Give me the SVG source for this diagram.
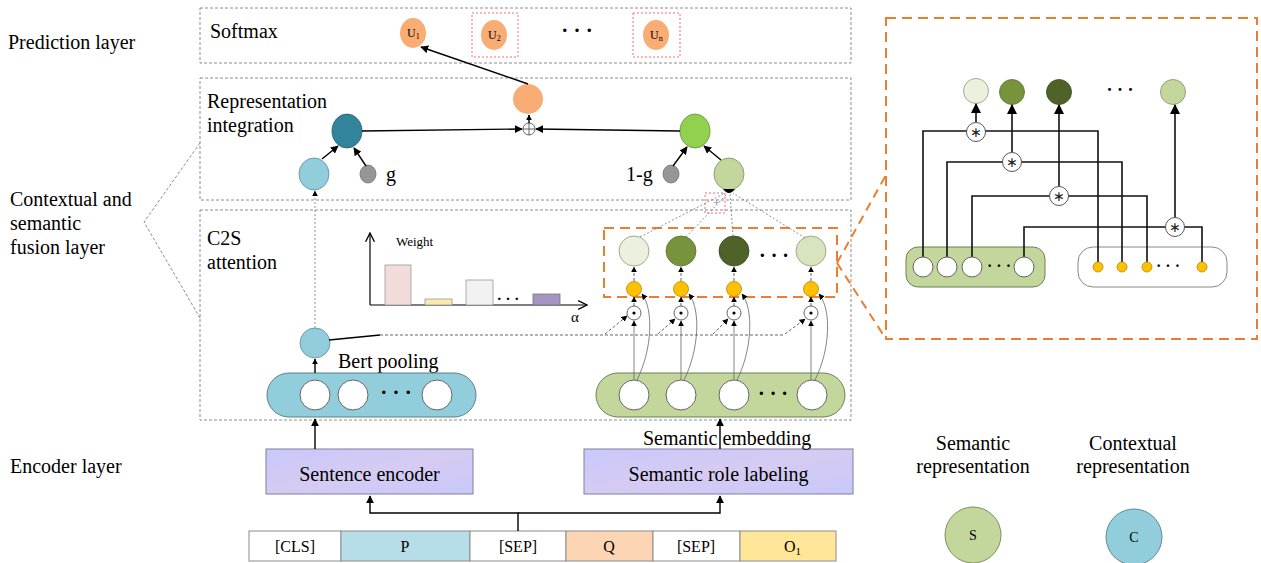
<svg xmlns="http://www.w3.org/2000/svg" width="1261" height="563" viewBox="0 0 1261 563">
<defs>
<style>
.t{font-family:"Liberation Serif","Times New Roman",serif;font-size:20px;fill:#000}
.s{font-family:"Liberation Serif","Times New Roman",serif;fill:#000}
.dots{font-family:"Liberation Serif","Times New Roman",serif;font-weight:bold;fill:#000;text-anchor:middle}
.ast{font-family:"DejaVu Sans",sans-serif;font-size:14px;fill:#222;text-anchor:middle}
.box{fill:none;stroke:#8c8c8c;stroke-width:1;stroke-dasharray:3 2}
.obox{fill:none;stroke:#ed7d31;stroke-width:2;stroke-dasharray:10 6}
.rbox{fill:none;stroke:#ff6b6b;stroke-width:1;stroke-dasharray:2 2}
.ln{fill:none;stroke:#000;stroke-width:1.4}
.thin{fill:none;stroke:#666;stroke-width:0.8}
.dot{fill:none;stroke:#777;stroke-width:0.8;stroke-dasharray:2 2}
.dash{fill:none;stroke:#555;stroke-width:0.9;stroke-dasharray:3 2}
.wc{fill:#fff;stroke:#666;stroke-width:1}
.yc{fill:#ffc000;stroke:#b08a00;stroke-width:0.8}
.uc{fill:#f9ac74;stroke:none}
.ink{fill:none;stroke:#111;stroke-width:1.6}
</style>
<marker id="ah" viewBox="0 0 10 10" refX="9" refY="5" markerWidth="8" markerHeight="8" markerUnits="userSpaceOnUse" orient="auto"><path d="M0,0 L10,5 L0,10 z" fill="#000"/></marker>
<marker id="ahs" viewBox="0 0 10 10" refX="9" refY="5" markerWidth="6" markerHeight="6" markerUnits="userSpaceOnUse" orient="auto"><path d="M0,0 L10,5 L0,10 z" fill="#000"/></marker>
<marker id="ahb" viewBox="0 0 10 10" refX="9" refY="5" markerWidth="11" markerHeight="10" markerUnits="userSpaceOnUse" orient="auto"><path d="M0,0 L10,5 L0,10 z" fill="#000"/></marker>
<marker id="chev" viewBox="0 0 10 10" refX="9" refY="5" markerWidth="11" markerHeight="11" markerUnits="userSpaceOnUse" orient="auto"><path d="M1,1 L9,5 L1,9" fill="none" stroke="#000" stroke-width="1.2"/></marker>
<linearGradient id="lav" x1="0" y1="0" x2="1" y2="1"><stop offset="0" stop-color="#c8c8fb"/><stop offset="0.5" stop-color="#d6cbf2"/><stop offset="1" stop-color="#c8c8fb"/></linearGradient>
</defs>
<rect width="1261" height="563" fill="#fff"/>

<!-- layer labels -->
<g id="layer-labels">
<text class="t" x="8" y="49">Prediction layer</text>
<text class="t" x="10" y="206">Contextual and</text>
<text class="t" x="10" y="230">semantic</text>
<text class="t" x="10" y="254">fusion layer</text>
<text class="t" x="10" y="473">Encoder layer</text>
<polyline points="200,143 144,222 200,318" class="box"/>
</g>

<!-- frames -->
<g id="prediction-box">
<rect x="200" y="8" width="651" height="55" class="box"/>
<text class="t" x="210" y="38">Softmax</text>
</g>
<g id="representation-box">
<rect x="200" y="78" width="651" height="122" class="box"/>
<text class="t" x="207" y="108">Representation</text>
<text class="t" x="207" y="132">integration</text>
</g>
<g id="c2s-box">
<rect x="200" y="210" width="651" height="210" class="box"/>
<text class="t" x="207" y="245">C2S</text>
<text class="t" x="207" y="269">attention</text>
</g>

<!-- prediction nodes -->
<g id="u1"><ellipse cx="413" cy="33" rx="13" ry="15" class="uc"/><text class="s" font-size="12" x="407" y="37">U<tspan font-size="8" dy="2">1</tspan></text></g>
<g id="u2"><rect x="472" y="13" width="46" height="44" class="rbox"/><ellipse cx="494" cy="35" rx="13" ry="15" class="uc"/><text class="s" font-size="12" x="488" y="39">U<tspan font-size="8" dy="2">2</tspan></text></g>
<g id="udots"><text class="dots" font-size="21" x="577" y="37">· · ·</text></g>
<g id="un"><rect x="633" y="13" width="47" height="44" class="rbox"/><ellipse cx="656" cy="35" rx="13" ry="15" class="uc"/><text class="s" font-size="12" x="650" y="39">U<tspan font-size="8" dy="2">n</tspan></text></g>

<!-- representation nodes -->
<g id="fused"><ellipse cx="528" cy="99" rx="15" ry="15" fill="#f9ac74"/></g>
<g id="oplus"><circle cx="529" cy="129" r="6" fill="#fff" stroke="#555" stroke-width="0.9"/><path d="M523,129 H535 M529,123 V135" stroke="#555" stroke-width="0.9"/></g>
<g id="ctx-gated"><ellipse cx="347" cy="131" rx="15" ry="17" fill="#31849b" stroke="#24606f" stroke-width="0.8"/></g>
<g id="sem-gated"><ellipse cx="695" cy="131" rx="15" ry="17" fill="#92d050" stroke="#5f8f32" stroke-width="0.8"/></g>
<g id="ctx-rep"><ellipse cx="314" cy="174" rx="15" ry="16" fill="#92cddc" stroke="#5a8c99" stroke-width="0.8"/></g>
<g id="gate-g"><ellipse cx="368" cy="174" rx="8" ry="9" fill="#969696" stroke="#6f6f6f" stroke-width="0.8"/><text class="t" x="386" y="181">g</text></g>
<g id="gate-1g"><ellipse cx="671" cy="174" rx="8" ry="9" fill="#969696" stroke="#6f6f6f" stroke-width="0.8"/><text class="t" x="626" y="181">1-g</text></g>
<g id="sem-rep"><ellipse cx="729" cy="174" rx="15" ry="16" fill="#c3d69b" stroke="#7d8f5a" stroke-width="0.8"/><path d="M723,189 Q729,197 735,189 Z" fill="#000"/></g>
<g id="sum-mark"><rect x="705" y="193" width="20" height="20" class="rbox"/><text class="s" font-size="12" x="713" y="207" style="fill:#888">+</text></g>

<!-- C2S chart -->
<g id="weight-chart">
<path d="M370,305 V233" class="thin" style="stroke:#000;stroke-width:1.2" marker-end="url(#chev)"/>
<path d="M370,305 H587" class="thin" style="stroke:#000;stroke-width:1.2" marker-end="url(#chev)"/>
<text class="s" font-size="13" x="396" y="246">Weight</text>
<text class="s" font-size="15" x="571" y="322">α</text>
<rect x="385" y="265" width="26" height="40" fill="#f2dcdb" stroke="#999" stroke-width="0.8"/>
<rect x="425" y="299" width="27" height="6" fill="#fce9b0" stroke="#999" stroke-width="0.8"/>
<rect x="466" y="280" width="27" height="25" fill="#f2f2f2" stroke="#999" stroke-width="0.8"/>
<text class="dots" font-size="15" x="508" y="304">· · ·</text>
<rect x="533" y="294" width="27" height="11" fill="#a495c1" stroke="#777" stroke-width="0.8"/>
</g>

<!-- pooling -->
<g id="pooled"><circle cx="315" cy="343" r="15" fill="#92cddc" stroke="#5a8c99" stroke-width="0.8"/><text class="t" x="338" y="368">Bert pooling</text></g>
<g id="context-seq">
<rect x="267" y="373" width="209" height="44" rx="22" fill="#92cddc" stroke="#5a7f8a" stroke-width="1"/>
<circle cx="315" cy="395" r="15" class="wc"/><circle cx="353" cy="395" r="15" class="wc"/><circle cx="437" cy="395" r="15" class="wc"/>
<text class="dots" font-size="21" x="396" y="399">· · ·</text>
</g>

<!-- semantic sequence -->
<g id="semantic-seq">
<rect x="596" y="373" width="249" height="44" rx="22" fill="#c3d69b" stroke="#6f7f55" stroke-width="1"/>
<circle cx="634" cy="395" r="15" class="wc"/><circle cx="681" cy="395" r="15" class="wc"/><circle cx="734" cy="395" r="15" class="wc"/><circle cx="812" cy="395" r="15" class="wc"/>
<text class="dots" font-size="20" x="773" y="400">· · ·</text>
</g>
<g id="dot-products">
<circle cx="634" cy="313" r="7" class="wc"/><circle cx="634" cy="313" r="1.6" fill="#000"/>
<circle cx="681" cy="313" r="7" class="wc"/><circle cx="681" cy="313" r="1.6" fill="#000"/>
<circle cx="734" cy="313" r="7" class="wc"/><circle cx="734" cy="313" r="1.6" fill="#000"/>
<circle cx="811" cy="313" r="7" class="wc"/><circle cx="811" cy="313" r="1.6" fill="#000"/>
</g>
<g id="weights">
<circle cx="634" cy="289" r="7.5" class="yc"/><circle cx="681" cy="289" r="7.5" class="yc"/><circle cx="734" cy="289" r="7.5" class="yc"/><circle cx="811" cy="289" r="7.5" class="yc"/>
</g>
<g id="weighted">
<rect x="604" y="228" width="233" height="69" class="obox"/>
<circle cx="634" cy="251" r="15" fill="#ebf1de" stroke="#8a9a70" stroke-width="0.8"/>
<circle cx="681" cy="251" r="15" fill="#77933c" stroke="#5a7030" stroke-width="0.8"/>
<circle cx="734" cy="251" r="15" fill="#4f6228" stroke="#3a481e" stroke-width="0.8"/>
<circle cx="811" cy="251" r="15" fill="#d7e4bd" stroke="#8a9a70" stroke-width="0.8"/>
<text class="dots" font-size="20" x="774" y="262">· · ·</text>
</g>

<!-- encoder -->
<g id="sentence-encoder"><rect x="266" y="449" width="207" height="45" fill="url(#lav)" stroke="#7f7f9f" stroke-width="1"/><text class="t" x="369.5" y="481" text-anchor="middle">Sentence encoder</text></g>
<g id="srl"><rect x="584" y="449" width="269" height="45" fill="url(#lav)" stroke="#7f7f9f" stroke-width="1"/><text class="t" x="718.5" y="481" text-anchor="middle">Semantic role labeling</text><text class="t" x="643" y="445">Semantic embedding</text></g>
<g id="tokens">
<rect x="249" y="531" width="92" height="30" fill="#fff" stroke="#8c8c8c"/>
<rect x="341" y="531" width="129" height="30" fill="#b7dee8" stroke="#8c8c8c"/>
<rect x="470" y="531" width="96" height="30" fill="#fff" stroke="#8c8c8c"/>
<rect x="566" y="531" width="87" height="30" fill="#fcd5b4" stroke="#8c8c8c"/>
<rect x="653" y="531" width="87" height="30" fill="#fff" stroke="#8c8c8c"/>
<rect x="740" y="531" width="96" height="30" fill="#ffe699" stroke="#8c8c8c"/>
<text class="s" font-size="16" x="295" y="552" text-anchor="middle">[CLS]</text>
<text class="s" font-size="16" x="405" y="552" text-anchor="middle">P</text>
<text class="s" font-size="16" x="518" y="552" text-anchor="middle">[SEP]</text>
<text class="s" font-size="16" x="609" y="552" text-anchor="middle">Q</text>
<text class="s" font-size="16" x="696" y="552" text-anchor="middle">[SEP]</text>
<text class="s" font-size="16" x="784" y="552">O<tspan font-size="11" dy="3">1</tspan></text>
</g>

<!-- inset -->
<g id="inset">
<rect x="886" y="18" width="371" height="321" class="obox"/>
<circle cx="976" cy="91" r="12.5" fill="#ebf1de" stroke="#8a9a70" stroke-width="0.8"/>
<circle cx="1012" cy="92" r="12.5" fill="#77933c" stroke="#5a7030" stroke-width="0.8"/>
<circle cx="1059" cy="92" r="12.5" fill="#4f6228" stroke="#3a481e" stroke-width="0.8"/>
<text class="dots" font-size="18" x="1120" y="96">· · ·</text>
<circle cx="1173" cy="92" r="12.5" fill="#c3d69b" stroke="#7d8f5a" stroke-width="0.8"/>
<rect x="906" y="247" width="139" height="40" rx="12" fill="#c3d69b" stroke="#6f7f55" stroke-width="1"/>
<rect x="1078" y="247" width="149" height="40" rx="15" fill="#fff" stroke="#888" stroke-width="1"/>
<path d="M923,257 V131 H1098 V262" class="ink"/>
<path d="M947,257 V162 H1122 V262" class="ink"/>
<path d="M972,257 V196 H1147 V262" class="ink"/>
<path d="M1024,257 V227 H1202 V262" class="ink"/>
<path d="M976,122 V104" class="ink" marker-end="url(#ahb)"/>
<path d="M1012,152 V105" class="ink" marker-end="url(#ahb)"/>
<path d="M1059,186 V105" class="ink" marker-end="url(#ahb)"/>
<path d="M1175,217 V105" class="ink" marker-end="url(#ahb)"/>
<circle cx="976" cy="132" r="9.5" fill="#fff" stroke="#555"/><text class="ast" x="976" y="137">∗</text>
<circle cx="1012" cy="162" r="9.5" fill="#fff" stroke="#555"/><text class="ast" x="1012" y="167">∗</text>
<circle cx="1059" cy="196" r="9.5" fill="#fff" stroke="#555"/><text class="ast" x="1059" y="201">∗</text>
<circle cx="1175" cy="227" r="9.5" fill="#fff" stroke="#555"/><text class="ast" x="1175" y="232">∗</text>
<circle cx="923" cy="267" r="10" class="wc"/><circle cx="947" cy="267" r="10" class="wc"/><circle cx="972" cy="267" r="10" class="wc"/><circle cx="1024" cy="267" r="10" class="wc"/>
<text class="dots" font-size="16" x="999" y="271">· · ·</text>
<circle cx="1098" cy="267" r="5" class="yc"/><circle cx="1122" cy="267" r="5" class="yc"/><circle cx="1147" cy="267" r="5" class="yc"/><circle cx="1202" cy="267" r="5" class="yc"/>
<text class="dots" font-size="16" x="1168" y="271">· · ·</text>
</g>

<!-- legend -->
<g id="legend-s"><text class="t" x="973" y="450" text-anchor="middle">Semantic</text><text class="t" x="973" y="473" text-anchor="middle">representation</text><circle cx="973" cy="535" r="28" fill="#c3d69b" stroke="#7d8f5a"/><text class="s" font-size="14" x="973" y="540" text-anchor="middle">S</text></g>
<g id="legend-c"><text class="t" x="1133" y="450" text-anchor="middle">Contextual</text><text class="t" x="1133" y="473" text-anchor="middle">representation</text><circle cx="1134" cy="537" r="28" fill="#92cddc" stroke="#5a8c99"/><text class="s" font-size="14" x="1134" y="542" text-anchor="middle">C</text></g>

<!-- connectors -->
<g id="connectors">
<path d="M528,84 L421,47" class="ln" marker-end="url(#ah)"/>
<path d="M529,123 V115" class="ln" marker-end="url(#ahs)"/>
<path d="M362,131 L522,129" class="ln" marker-end="url(#ah)"/>
<path d="M680,131 L536,129" class="ln" marker-end="url(#ah)"/>
<path d="M322,159 L338,146" class="ln" marker-end="url(#ah)"/>
<path d="M366,166 L354,148" class="ln" marker-end="url(#ah)"/>
<path d="M673,166 L687,147" class="ln" marker-end="url(#ah)"/>
<path d="M721,160 L704,146" class="ln" marker-end="url(#ah)"/>
<path d="M315,328 V191" class="dot" marker-end="url(#ahs)"/>
<path d="M315,373 V359" class="ln" marker-end="url(#ahs)"/>
<path d="M329,340 L380,335" class="ln"/>
<path d="M380,335 H785" class="dash"/>
<path d="M605,334 L627,316" class="dash" marker-end="url(#ahs)"/>
<path d="M658,334 L675,319" class="dash" marker-end="url(#ahs)"/>
<path d="M713,334 L728,319" class="dash" marker-end="url(#ahs)"/>
<path d="M785,334 L805,319" class="dash" marker-end="url(#ahs)"/>
<path d="M634,380 V321" class="thin" marker-end="url(#ahs)"/>
<path d="M681,380 V321" class="thin" marker-end="url(#ahs)"/>
<path d="M734,380 V321" class="thin" marker-end="url(#ahs)"/>
<path d="M811,380 V321" class="thin" marker-end="url(#ahs)"/>
<path d="M637,380 C652,350 654,310 642,294" class="thin" marker-end="url(#ahs)"/>
<path d="M684,380 C699,350 701,310 689,294" class="thin" marker-end="url(#ahs)"/>
<path d="M737,380 C752,350 754,310 742,294" class="thin" marker-end="url(#ahs)"/>
<path d="M815,380 C830,350 832,310 819,294" class="thin" marker-end="url(#ahs)"/>
<path d="M634,306 V297" class="dash" marker-end="url(#ahs)"/>
<path d="M681,306 V297" class="dash" marker-end="url(#ahs)"/>
<path d="M734,306 V297" class="dash" marker-end="url(#ahs)"/>
<path d="M811,306 V297" class="dash" marker-end="url(#ahs)"/>
<path d="M634,281 V267" class="dash" marker-end="url(#ahs)"/>
<path d="M681,281 V267" class="dash" marker-end="url(#ahs)"/>
<path d="M734,281 V267" class="dash" marker-end="url(#ahs)"/>
<path d="M811,281 V267" class="dash" marker-end="url(#ahs)"/>
<path d="M640,237 L725,193" class="dot"/>
<path d="M686,237 L727,194" class="dot"/>
<path d="M733,236 L730,194" class="dot"/>
<path d="M805,238 L733,193" class="dot"/>
<path d="M837,263 L886,175" class="obox" style="stroke-dasharray:9 6"/>
<path d="M837,263 L886,339" class="obox" style="stroke-dasharray:9 6"/>
<path d="M315,449 V419" class="ln" marker-end="url(#ah)"/>
<path d="M720,449 V419" class="ln" marker-end="url(#ah)"/>
<path d="M518,531 V513 H370 V496" class="ln" marker-end="url(#ah)"/>
<path d="M518,513 H720 V496" class="ln" marker-end="url(#ah)"/>
</g>
</svg>
